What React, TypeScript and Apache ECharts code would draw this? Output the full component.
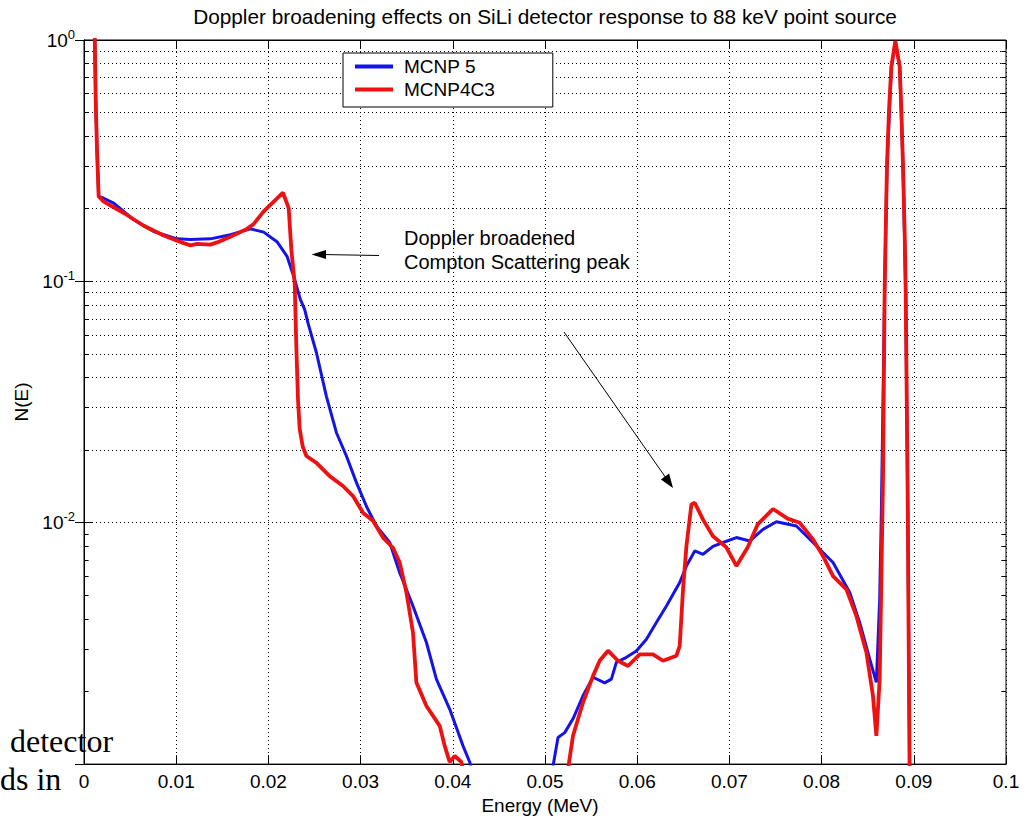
import React, { useEffect, useRef } from 'react';
import * as echarts from 'echarts';

// MCNP 5 (blue) spectrum
const mcnp5Energy = [
  0.00116, 0.00127, 0.00141, 0.00159, 0.00214, 0.00322, 0.00539, 0.00756, 0.01009, 0.01154,
  0.01371, 0.01588, 0.01805, 0.01949, 0.02093, 0.02202, 0.02274, 0.02347, 0.02394, 0.02429,
  0.02521, 0.02629, 0.02738, 0.02846, 0.02954, 0.03063, 0.03171, 0.03316, 0.03424, 0.03568,
  0.03714, 0.03822, 0.03966, 0.04111, 0.04183, 0.04227, 0.047,
  0.0507, 0.05141, 0.05214, 0.05304, 0.05412, 0.05521, 0.05647, 0.0572, 0.05774, 0.05883,
  0.05991, 0.061, 0.06208, 0.06317, 0.06461, 0.06534, 0.06624, 0.06714, 0.06822, 0.06931,
  0.07076, 0.0722, 0.07364, 0.0751, 0.07727, 0.07907, 0.08124, 0.08305, 0.08413, 0.08522,
  0.08594, 0.0863, 0.08648, 0.08684, 0.08709, 0.08757, 0.088, 0.08847, 0.08883, 0.08912,
  0.08934, 0.08955,
];
const mcnp5N = [
  1.05, 0.565, 0.351, 0.225, 0.221, 0.211, 0.18, 0.161, 0.15, 0.149,
  0.15, 0.156, 0.165, 0.16, 0.146, 0.127, 0.105, 0.084, 0.0764, 0.0673,
  0.0506, 0.0334, 0.0236, 0.0189, 0.0147, 0.0117, 0.00969, 0.00828, 0.00621, 0.00452,
  0.00319, 0.00225, 0.00169, 0.00119, 0.00102, 0.0009, null,
  0.0009, 0.00129, 0.00135, 0.00154, 0.00192, 0.00229, 0.00217, 0.00225, 0.00264, 0.00277,
  0.00294, 0.00329, 0.00386, 0.00452, 0.00565, 0.00662, 0.00764, 0.0074, 0.00798, 0.00828,
  0.00868, 0.0084, 0.00939, 0.0101, 0.00969, 0.00828, 0.00684, 0.00514, 0.00386, 0.00272,
  0.00218, 0.00482, 0.011, 0.0924, 0.299, 0.776, 0.984, 0.776, 0.299, 0.0924,
  0.0125, 0.0009,
];

// MCNP4C3 (red) spectrum
const mcnp4Energy = [
  0.00116, 0.00127, 0.00141, 0.00159, 0.00214, 0.00431, 0.00648, 0.00864, 0.01081, 0.01154,
  0.01226, 0.01371, 0.01443, 0.01588, 0.01768, 0.01841, 0.01949, 0.02058, 0.02158, 0.0222,
  0.02249, 0.02285, 0.02304, 0.02321, 0.02339, 0.02372, 0.02412, 0.02521, 0.02665, 0.02809,
  0.02918, 0.03026, 0.03134, 0.03243, 0.03351, 0.03424, 0.03497, 0.03568, 0.03605, 0.03714,
  0.03858, 0.03912, 0.03966, 0.04021, 0.04093, 0.04118, 0.047,
  0.0524, 0.05304, 0.05412, 0.05521, 0.05593, 0.05683, 0.05792, 0.059, 0.06027, 0.06171,
  0.0628, 0.06425, 0.06461, 0.06497, 0.06534, 0.06588, 0.06624, 0.06714, 0.06822, 0.06967,
  0.07076, 0.07199, 0.07307, 0.07473, 0.07632, 0.07762, 0.07907, 0.08015, 0.08124, 0.08269,
  0.08377, 0.08486, 0.08557, 0.08594, 0.0863, 0.08648, 0.08666, 0.08684, 0.08695, 0.08709,
  0.08731, 0.08757, 0.088, 0.08847, 0.08865, 0.08883, 0.08901, 0.08912, 0.08934, 0.08945,
  0.08955,
];
const mcnp4N = [
  1.05, 0.565, 0.351, 0.225, 0.214, 0.192, 0.17, 0.155, 0.144, 0.141,
  0.143, 0.142, 0.145, 0.153, 0.165, 0.173, 0.195, 0.214, 0.233, 0.201,
  0.135, 0.0986, 0.0521, 0.0324, 0.0245, 0.0207, 0.0189, 0.0177, 0.0156, 0.0142,
  0.0129, 0.011, 0.0102, 0.00868, 0.00788, 0.00684, 0.00514, 0.00351, 0.00218, 0.00174,
  0.00144, 0.00119, 0.00102, 0.00108, 0.00102, 0.0009, null,
  0.0009, 0.00131, 0.0018, 0.00232, 0.00268, 0.00295, 0.00268, 0.00255, 0.00285, 0.00285,
  0.00268, 0.00281, 0.00309, 0.0053, 0.00801, 0.0119, 0.0121, 0.0103, 0.00879, 0.00791,
  0.00662, 0.00791, 0.00985, 0.0114, 0.0104, 0.01, 0.00853, 0.00728, 0.00601, 0.0053,
  0.00411, 0.0029, 0.00192, 0.00131, 0.00225, 0.00583, 0.0151, 0.0924, 0.159, 0.299,
  0.513, 0.776, 0.99, 0.776, 0.513, 0.299, 0.159, 0.0924, 0.0125, 0.00299,
  0.0009,
];

const seriesNames = ['MCNP 5', 'MCNP4C3'];
const minorLogValues = [
  0.002, 0.003, 0.004, 0.005, 0.006, 0.007, 0.008, 0.009,
  0.02, 0.03, 0.04, 0.05, 0.06, 0.07, 0.08, 0.09,
  0.2, 0.3, 0.4, 0.5, 0.6, 0.7, 0.8, 0.9,
];

const FONT = '"Liberation Sans", Arial, sans-serif';

function pairs(xs: number[], ys: (number | null)[]) {
  return xs.map((x, i) => [x, ys[i] === null ? null : ys[i]]);
}

export default function App() {
  const ref = useRef<HTMLDivElement>(null);
  useEffect(() => {
    const chart = echarts.init(ref.current!, null, { renderer: 'svg' });
    const dotted = { type: [1, 3] as any, color: '#000', width: 1 };
    const markData: any[] = [];
    minorLogValues.forEach((v) => {
      markData.push({ yAxis: v, lineStyle: dotted });
      markData.push([
        { coord: [0, v], lineStyle: { type: 'solid', color: '#000', width: 1 } },
        { coord: [0.0005, v] },
      ]);
      markData.push([
        { coord: [0.0995, v], lineStyle: { type: 'solid', color: '#000', width: 1 } },
        { coord: [0.1, v] },
      ]);
    });
    const option: any = {
      animation: false,
      backgroundColor: '#fff',
      textStyle: { fontFamily: FONT, color: '#000' },
      title: {
        text: 'Doppler broadening effects on SiLi detector response to 88 keV point source',
        left: 545,
        textAlign: 'center',
        top: 6,
        padding: 0,
        textStyle: { fontFamily: FONT, fontSize: 20.8, fontWeight: 'normal', color: '#000' },
      },
      legend: {
        data: seriesNames,
        orient: 'vertical',
        left: 343,
        top: 53,
        icon: 'rect',
        itemWidth: 38,
        itemHeight: 4,
        itemGap: 4,
        padding: [4, 58, 8, 12],
        borderColor: '#000',
        borderWidth: 1,
        backgroundColor: '#fff',
        textStyle: { fontFamily: FONT, fontSize: 19, color: '#000', padding: [0, 0, 0, 6] },
      },
      grid: {
        left: 84,
        right: 22,
        top: 40,
        bottom: 54,
        show: true,
        borderColor: '#000',
        borderWidth: 1,
        backgroundColor: '#fff',
        containLabel: false,
      },
      xAxis: [
        {
          type: 'value',
          min: 0,
          max: 0.1,
          interval: 0.01,
          position: 'bottom',
          name: 'Energy (MeV)',
          nameLocation: 'middle',
          nameGap: 31,
          nameTextStyle: { fontFamily: FONT, fontSize: 19, color: '#000', padding: [0, 10, 0, 0] },
          axisLine: { show: true, lineStyle: { color: '#000', width: 1 } },
          axisTick: { show: true, inside: true, length: 9, lineStyle: { color: '#000' } },
          axisLabel: {
            margin: 8,
            fontFamily: FONT,
            fontSize: 19,
            color: '#000',
            formatter: (v: number) => String(parseFloat(v.toFixed(2))),
          },
          splitLine: { show: true, lineStyle: dotted },
        },
        {
          type: 'value',
          min: 0,
          max: 0.1,
          interval: 0.01,
          position: 'top',
          axisLine: { show: true, lineStyle: { color: '#000', width: 1 } },
          axisTick: { show: true, inside: true, length: 9, lineStyle: { color: '#000' } },
          axisLabel: { show: false },
          splitLine: { show: false },
        },
      ],
      yAxis: [
        {
          type: 'log',
          logBase: 10,
          min: 0.001,
          max: 1,
          position: 'left',
          name: 'N(E)',
          nameLocation: 'middle',
          nameGap: 44,
          nameTextStyle: { fontFamily: FONT, fontSize: 19, color: '#000' },
          axisLine: { show: true, lineStyle: { color: '#000', width: 1 } },
          axisTick: { show: true, inside: true, length: 9, lineStyle: { color: '#000' } },
          axisLabel: {
            margin: 9,
            formatter: (v: number) => {
              const e = Math.round(Math.log10(v));
              if (e <= -3) return '';
              return '{b|10}{s|' + e + '}';
            },
            rich: {
              b: { fontFamily: FONT, fontSize: 19, color: '#000' },
              s: { fontFamily: FONT, fontSize: 13, color: '#000', padding: [0, 0, 12, 0] },
            },
          },
          splitLine: { show: true, lineStyle: dotted },
        },
        {
          type: 'log',
          logBase: 10,
          min: 0.001,
          max: 1,
          position: 'right',
          axisLine: { show: true, lineStyle: { color: '#000', width: 1 } },
          axisTick: { show: true, inside: true, length: 9, lineStyle: { color: '#000' } },
          axisLabel: { show: false },
          splitLine: { show: false },
        },
      ],
      series: [
        {
          name: seriesNames[0],
          type: 'line',
          xAxisIndex: 0,
          yAxisIndex: 0,
          data: pairs(mcnp5Energy, mcnp5N),
          showSymbol: false,
          symbol: 'none',
          connectNulls: false,
          clip: true,
          color: '#1414e6',
          lineStyle: { color: '#1414e6', width: 3 },
          z: 3,
          markLine: {
            silent: true,
            symbol: ['none', 'none'],
            label: { show: false },
            z: 1,
            data: markData,
          },
        },
        {
          name: seriesNames[1],
          type: 'line',
          xAxisIndex: 0,
          yAxisIndex: 0,
          data: pairs(mcnp4Energy, mcnp4N),
          showSymbol: false,
          symbol: 'none',
          connectNulls: false,
          clip: true,
          color: '#ee1111',
          lineStyle: { color: '#ee1111', width: 3.8 },
          z: 4,
        },
      ],
      graphic: [
        {
          type: 'text',
          x: 404,
          y: 238,
          style: {
            text: 'Doppler broadened',
            font: '20px "Liberation Sans", Arial, sans-serif',
            fill: '#000',
            verticalAlign: 'middle',
          },
          z: 10,
        },
        {
          type: 'text',
          x: 404,
          y: 262,
          style: {
            text: 'Compton Scattering peak',
            font: '20px "Liberation Sans", Arial, sans-serif',
            fill: '#000',
            verticalAlign: 'middle',
          },
          z: 10,
        },
        {
          type: 'line',
          shape: { x1: 379, y1: 255.5, x2: 322, y2: 254.5 },
          style: { stroke: '#000', lineWidth: 1 },
          z: 10,
        },
        {
          type: 'polygon',
          shape: { points: [[311.5, 254.5], [326, 250], [326, 259]] },
          style: { fill: '#000' },
          z: 10,
        },
        {
          type: 'line',
          shape: { x1: 564, y1: 332, x2: 666, y2: 478 },
          style: { stroke: '#000', lineWidth: 1 },
          z: 10,
        },
        {
          type: 'polygon',
          shape: { points: [[673, 488], [660.9, 479.4], [669.1, 473.6]] },
          style: { fill: '#000' },
          z: 10,
        },
        {
          type: 'text',
          x: 10,
          y: 741,
          style: {
            text: 'detector',
            font: '32px "Liberation Serif", "Times New Roman", serif',
            fill: '#000',
            verticalAlign: 'middle',
          },
          z: 20,
        },
        {
          type: 'text',
          x: 0,
          y: 779,
          style: {
            text: 'ds in',
            font: '32px "Liberation Serif", "Times New Roman", serif',
            fill: '#000',
            verticalAlign: 'middle',
          },
          z: 20,
        },
      ],
    };
    chart.setOption(option);
    return () => chart.dispose();
  }, []);
  return (
    <div
      ref={ref}
      style={{ position: 'absolute', left: 0, top: 0, width: 1028, height: 820, background: '#fff' }}
    />
  );
}
